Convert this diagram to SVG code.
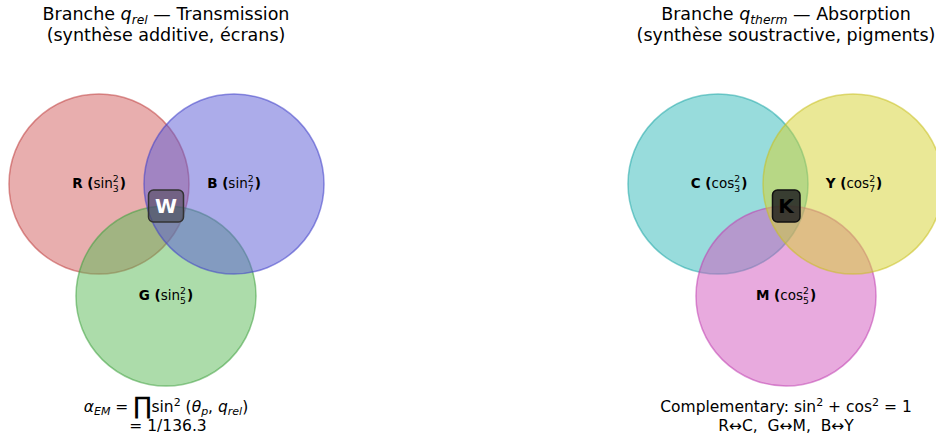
<svg xmlns="http://www.w3.org/2000/svg" width="936" height="441" viewBox="0 0 936 441">
<style>
text{font-family:"DejaVu Sans","Liberation Sans",sans-serif;fill:#000}
.title{font-size:17.5px;text-anchor:middle}
.it{font-style:italic}
.lbl{font-size:13.5px;text-anchor:middle}
.b{font-weight:bold}
.sup{font-size:9.3px}
.circ{fill-opacity:0.5;stroke-opacity:0.55;stroke-width:1.5}
.form{font-size:15.5px;text-anchor:middle}
.sm{font-size:11px}
.pre{white-space:pre}
</style>
<rect width="936" height="441" fill="#ffffff"/>
<g id="title-left">
<text class="title" x="166" y="19.5">Branche <tspan class="it">q</tspan><tspan class="it" font-size="12.3" dy="4">rel</tspan><tspan dy="-4"> — Transmission</tspan></text>
<text class="title" x="166" y="40.5">(synthèse additive, écrans)</text>
</g>
<g id="title-right">
<text class="title" x="786" y="19.5">Branche <tspan class="it">q</tspan><tspan class="it" font-size="12.3" dy="4">therm</tspan><tspan dy="-4"> — Absorption</tspan></text>
<text class="title" x="786" y="40.5">(synthèse soustractive, pigments)</text>
</g>
<g id="node-R">
<circle class="circ" cx="99" cy="184" r="90" fill="#d15d5d" stroke="#c04040"/>
</g>
<g id="node-G">
<circle class="circ" cx="166" cy="296" r="90" fill="#59b955" stroke="#40a040"/>
</g>
<g id="node-B">
<circle class="circ" cx="234" cy="184" r="90" fill="#5959d5" stroke="#4040c8"/>
</g>
<g id="node-C">
<circle class="circ" cx="718" cy="184" r="90" fill="#31b9b9" stroke="#20a8a8"/>
</g>
<g id="node-M">
<circle class="circ" cx="786" cy="296" r="90" fill="#d155bd" stroke="#c040b0"/>
</g>
<g id="node-Y">
<circle class="circ" cx="853" cy="184" r="90" fill="#d5d12d" stroke="#c8c020"/>
</g>
<g id="labels-left">
<text class="lbl" x="99" y="187.5"><tspan class="b">R (</tspan>sin<tspan class="sup" dy="-6">2</tspan><tspan class="sup" dx="-5.9" dy="10">3</tspan><tspan class="b" dx="1" dy="-4">)</tspan></text>
<text class="lbl" x="234" y="187.5"><tspan class="b">B (</tspan>sin<tspan class="sup" dy="-6">2</tspan><tspan class="sup" dx="-5.9" dy="10">7</tspan><tspan class="b" dx="1" dy="-4">)</tspan></text>
<text class="lbl" x="166" y="299.5"><tspan class="b">G (</tspan>sin<tspan class="sup" dy="-6">2</tspan><tspan class="sup" dx="-5.9" dy="10">5</tspan><tspan class="b" dx="1" dy="-4">)</tspan></text>
</g>
<g id="labels-right">
<text class="lbl" x="719" y="187.5"><tspan class="b">C (</tspan>cos<tspan class="sup" dy="-6">2</tspan><tspan class="sup" dx="-5.9" dy="10">3</tspan><tspan class="b" dx="1" dy="-4">)</tspan></text>
<text class="lbl" x="854" y="187.5"><tspan class="b">Y (</tspan>cos<tspan class="sup" dy="-6">2</tspan><tspan class="sup" dx="-5.9" dy="10">7</tspan><tspan class="b" dx="1" dy="-4">)</tspan></text>
<text class="lbl" x="786" y="299.5"><tspan class="b">M (</tspan>cos<tspan class="sup" dy="-6">2</tspan><tspan class="sup" dx="-5.9" dy="10">5</tspan><tspan class="b" dx="1" dy="-4">)</tspan></text>
</g>
<g id="node-W">
<rect x="148.5" y="190" width="35" height="32" rx="5" fill="#3a3a3a" fill-opacity="0.45" stroke="#333" stroke-width="1.5"/>
<text x="166" y="212.5" font-size="20" font-weight="bold" text-anchor="middle" style="fill:#fff">W</text>
</g>
<g id="node-K">
<rect x="772.5" y="190" width="27.5" height="32" rx="5" fill="#222" fill-opacity="0.85" stroke="#111" stroke-width="1.5"/>
<text x="786" y="212.5" font-size="20" font-weight="bold" text-anchor="middle">K</text>
</g>
<g id="formula-left">
<text class="form" x="166" y="412"><tspan class="it">α</tspan><tspan class="it sm" dy="3">EM</tspan><tspan dy="-3"> = </tspan><tspan font-size="24" dy="2">∏</tspan><tspan dy="-2">sin</tspan><tspan class="sm" dy="-6">2</tspan><tspan dy="6"> (</tspan><tspan class="it">θ</tspan><tspan class="it sm" dy="3">p</tspan><tspan dy="-3">, </tspan><tspan class="it">q</tspan><tspan class="it sm" dy="3">rel</tspan><tspan dy="-3">)</tspan></text>
<text class="form" x="168" y="431">= 1/136.3</text>
</g>
<g id="formula-right">
<text class="form" x="786" y="412">Complementary: sin<tspan class="sm" dy="-6">2</tspan><tspan dy="6"> + cos</tspan><tspan class="sm" dy="-6">2</tspan><tspan dy="6"> = 1</tspan></text>
<text class="form pre" x="786" y="431">R↔C,  G↔M,  B↔Y</text>
</g>
</svg>
